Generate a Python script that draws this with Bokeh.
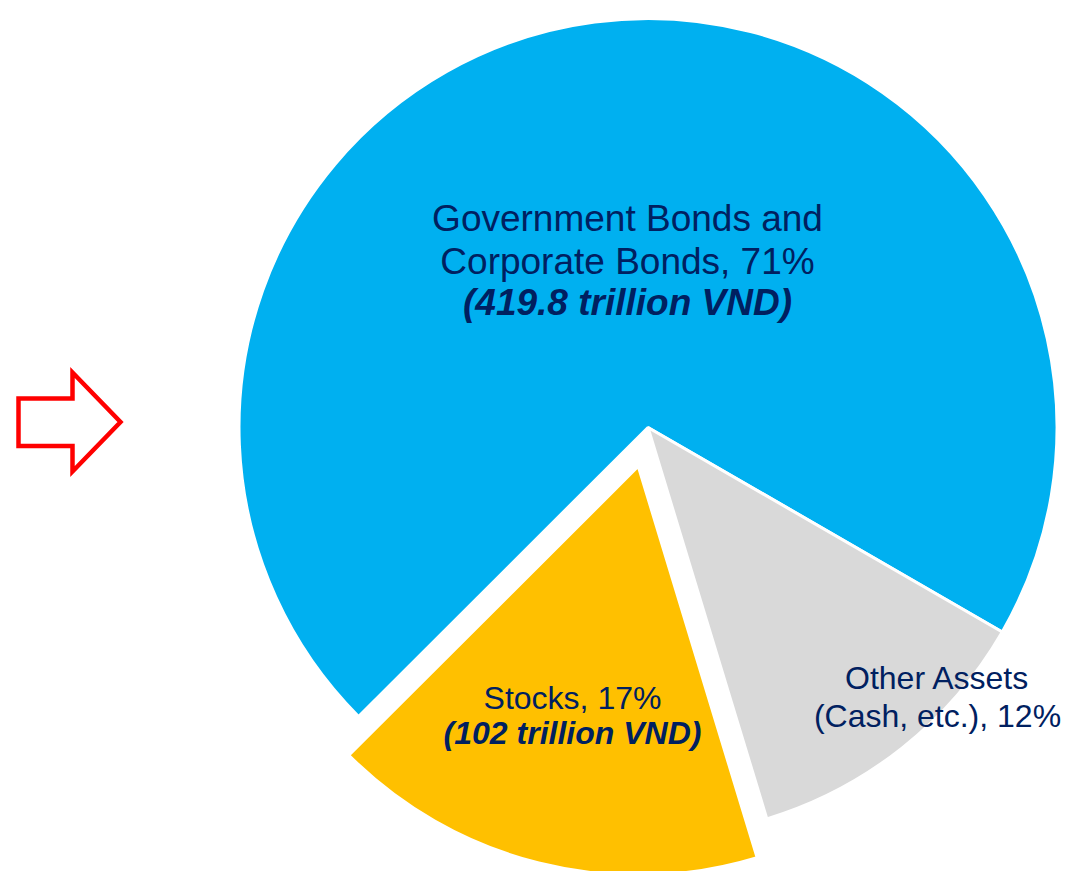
import numpy as np
from bokeh.plotting import figure
from bokeh.models import Range1d, ColumnDataSource
from bokeh.core.properties import value
from bokeh.embed import file_html
from bokeh.resources import INLINE

# Portfolio allocation (trillion VND); "Other Assets" amount estimated
categories = ["Government Bonds and Corporate Bonds", "Other Assets (Cash, etc.)", "Stocks"]
amounts = [419.8, 71.0, 102.0]
colors = ["#00B0F0", "#D9D9D9", "#FFC000"]
explode = [0, 0, 40]

W, H = 1068, 871
CX, CY, R = 647.5, H - 427, 409
START_DEG = 224.95  # first slice begins here and slices run clockwise

p = figure(width=W, height=H, x_range=Range1d(0, W), y_range=Range1d(0, H),
           output_backend="svg", toolbar_location=None, min_border=0)
p.axis.visible = False
p.grid.visible = False
p.outline_line_color = None
p.background_fill_color = "white"
p.border_fill_color = "white"

vals = np.array(amounts)
frac = vals / vals.sum()
cum = np.concatenate([[0], np.cumsum(frac)]) * 2 * np.pi
start = np.deg2rad(START_DEG)
starts = start - cum[1:]
ends = start - cum[:-1]
mids = (starts + ends) / 2
xs = CX + np.array(explode) * np.cos(mids)
ys = CY + np.array(explode) * np.sin(mids)

src = ColumnDataSource(dict(x=xs, y=ys, s=starts, e=ends, c=colors))
p.wedge(x="x", y="y", radius=R, start_angle="s", end_angle="e",
        fill_color="c", line_color="white", line_width=3, source=src)

# Slice labels
pct = [f"{round(f * 100):d}%" for f in frac]
navy = "#002060"
font = value("Liberation Sans")

def label(x, y, txt, size, style="normal"):
    p.text(x=[x], y=[H - y], text=[txt], text_font=font, text_font_size=size,
           text_font_style=style, text_color=navy, text_align="center",
           text_baseline="alphabetic")

label(627, 218, "Government Bonds and", "37px")
label(627, 261, f"Corporate Bonds, {pct[0]}", "37px")
label(627, 302, f"({amounts[0]:.1f} trillion VND)", "37px", "bold italic")

label(572, 697, f"Stocks, {pct[2]}", "32px")
label(572, 732, f"({amounts[2]:.0f} trillion VND)", "32px", "bold italic")

label(937, 677, "Other Assets", "32px")
label(937, 715, f"(Cash, etc.), {pct[1]}", "32px")

# Hollow red arrow pointing at the chart
ax = [18, 72, 72, 120, 72, 72, 18, 18]
ay = [398, 398, 372, 421.5, 471, 445.5, 445.5, 398]
p.patch(x=ax, y=[H - v for v in ay], fill_color=None, line_color="#FF0000",
        line_width=4.5, line_join="miter")

open("out.html", "w").write(file_html(p, INLINE))
